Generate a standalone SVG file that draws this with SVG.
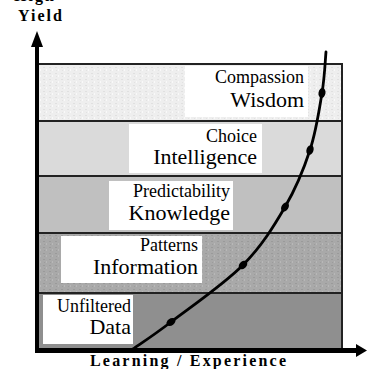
<svg xmlns="http://www.w3.org/2000/svg" width="367" height="369" viewBox="0 0 367 369">
<defs>
<style>
.band{stroke:#222;stroke-width:2}
.lbl{fill:#fff}
.sm{font-family:'Liberation Serif','Times New Roman',serif;font-size:18px;fill:#000;text-anchor:end}
.lg{font-family:'Liberation Serif','Times New Roman',serif;font-size:22px;fill:#000;text-anchor:end}
.ax{font-family:'Liberation Serif','Times New Roman',serif;font-size:16px;font-weight:bold;fill:#000}
.curve{fill:none;stroke:#000;stroke-width:2.8;stroke-linecap:round}
.dot{fill:#000}
</style>
<pattern id="pw" width="6" height="6" patternUnits="userSpaceOnUse">
<rect width="6" height="6" fill="#eeeeee"/>
<rect x="1" y="1" width="2" height="1" fill="#e0e0e0"/>
<rect x="4" y="3" width="1" height="2" fill="#f9f9f9"/>
<rect x="2" y="4" width="1" height="1" fill="#e2e2e2"/>
</pattern>
<pattern id="pi" width="6" height="6" patternUnits="userSpaceOnUse">
<rect width="6" height="6" fill="#a9a9a9"/>
<rect x="1" y="1" width="2" height="1" fill="#9a9a9a"/>
<rect x="4" y="3" width="1" height="2" fill="#b8b8b8"/>
<rect x="2" y="4" width="1" height="1" fill="#9c9c9c"/>
</pattern>
</defs>
<g id="bands">
<rect id="band-wisdom" class="band" x="37" y="64" width="305" height="57" fill="url(#pw)"/>
<rect id="band-intelligence" class="band" x="37" y="121" width="305" height="55" fill="#dadada"/>
<rect id="band-knowledge" class="band" x="37" y="176" width="305" height="57" fill="#c0c0c0"/>
<rect id="band-information" class="band" x="37" y="233" width="305" height="60" fill="url(#pi)"/>
<rect id="band-data" class="band" x="37" y="293" width="305" height="56" fill="#8f8f8f"/>
</g>
<g id="node-wisdom">
<rect class="lbl" x="185" y="66" width="123" height="51"/>
<text class="sm" x="304" y="83" font-family="Liberation Serif, serif">Compassion</text>
<text class="lg" x="304" y="107" font-family="Liberation Serif, serif">Wisdom</text>
</g>
<g id="node-intelligence">
<rect class="lbl" x="129" y="124" width="133" height="49"/>
<text class="sm" x="257" y="142" font-family="Liberation Serif, serif">Choice</text>
<text class="lg" x="257" y="164" font-family="Liberation Serif, serif">Intelligence</text>
</g>
<g id="node-knowledge">
<rect class="lbl" x="109" y="181" width="124" height="49"/>
<text class="sm" x="230" y="197" font-family="Liberation Serif, serif">Predictability</text>
<text class="lg" x="230" y="220" font-family="Liberation Serif, serif">Knowledge</text>
</g>
<g id="node-information">
<rect class="lbl" x="61" y="236" width="141" height="47"/>
<text class="sm" x="198" y="251" font-family="Liberation Serif, serif">Patterns</text>
<text class="lg" x="198" y="274" font-family="Liberation Serif, serif">Information</text>
</g>
<g id="node-data">
<rect class="lbl" x="43" y="295" width="90" height="49"/>
<text class="sm" x="131" y="312" font-family="Liberation Serif, serif">Unfiltered</text>
<text class="lg" x="131" y="334" font-family="Liberation Serif, serif">Data</text>
</g>
<g id="connectors">
<path class="curve" d="M133,349 C139.3,344.5 152.7,336 171,322 C189.3,308 224,284.2 243,265 C262,245.8 273.8,226.2 285,207 C296.2,187.8 303.8,169 310,150 C316.2,131 319.3,109.3 322,93 C324.7,76.7 325.3,58.8 326,52"/>
<ellipse class="dot" cx="171" cy="322" rx="5" ry="3.5" transform="rotate(-37 171 322)"/>
<ellipse class="dot" cx="243" cy="265" rx="5" ry="3.5" transform="rotate(-45 243 265)"/>
<ellipse class="dot" cx="285" cy="207" rx="5" ry="3.5" transform="rotate(-58 285 207)"/>
<ellipse class="dot" cx="310" cy="150" rx="5" ry="3.5" transform="rotate(-70 310 150)"/>
<ellipse class="dot" cx="322" cy="93" rx="5" ry="3.5" transform="rotate(-80 322 93)"/>
</g>
<g id="axes">
<rect x="35" y="44" width="4" height="309" fill="#000"/>
<polygon points="37,31 31,47 43,47" fill="#000"/>
<rect x="35" y="348" width="323" height="5" fill="#000"/>
<polygon points="367,350.5 356,344 356,357" fill="#000"/>
</g>
<g id="labels">
<text class="ax" x="14" y="1" textLength="40" lengthAdjust="spacing" font-family="Liberation Serif, serif">High</text>
<text class="ax" x="18" y="21" textLength="44" lengthAdjust="spacing" font-family="Liberation Serif, serif">Yield</text>
<text class="ax" x="90" y="366" textLength="196" lengthAdjust="spacing" font-family="Liberation Serif, serif">Learning / Experience</text>
</g>
</svg>
